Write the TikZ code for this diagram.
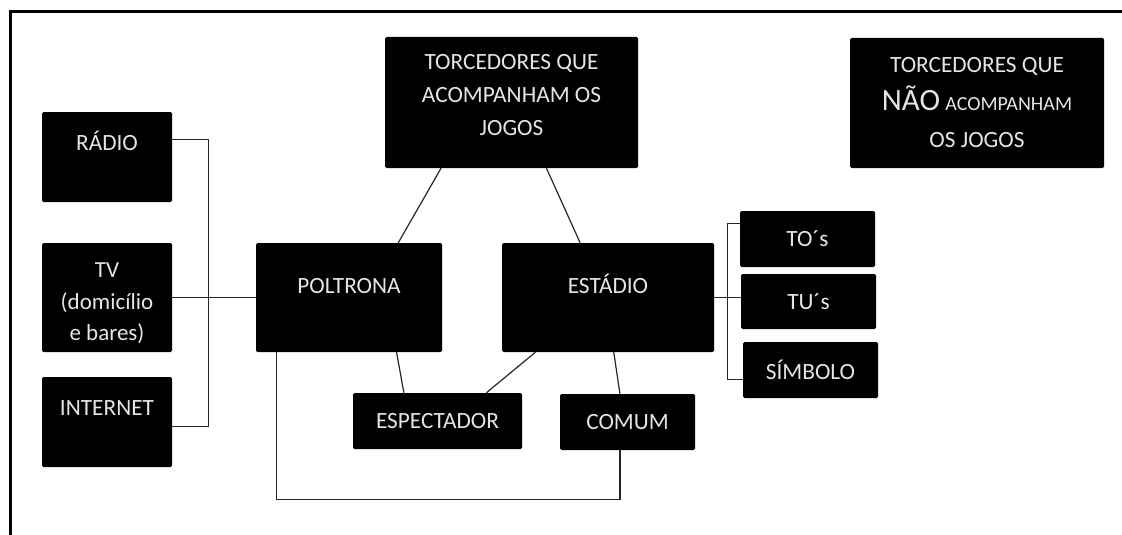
\documentclass[tikz,border=0pt]{standalone}
\usepackage{fontspec}
\setmainfont{Carlito}
\usepackage{tikz}

\begin{document}
\begin{tikzpicture}[x=1pt,y=-1pt,
  box/.style={fill=black, rounded corners=1.5pt, inner sep=0pt, text=white!90!black, align=center, font=\fontsize{23.3}{33}\selectfont},
  link/.style={draw=black!85, line width=1.2pt}]
\useasboundingbox (0,0) rectangle (1122,535);
\draw[line width=3pt] (10,535) -- (10,12) -- (1122,12);
\node[box, minimum width=130pt, text height=38pt, text depth=52pt] (1) at (107,157){RÁDIO};
\node[box, minimum width=130pt, text height=97.5pt, text depth=11.5pt, font=\fontsize{23}{31.5}\selectfont] (2) at (107,297.5){TV\\(domicílio\\e bares)};
\node[box, minimum width=130pt, text height=38pt, text depth=52pt] (3) at (107,422){INTERNET};
\node[box, minimum width=186pt, text height=50pt, text depth=59pt] (4) at (349,297.5){POLTRONA};
\node[box, minimum width=253pt, text height=98.5pt, text depth=32.5pt] (5) at (511.5,102.5){TORCEDORES QUE\\ACOMPANHAM OS\\JOGOS};
\node[box, minimum width=212pt, text height=50pt, text depth=59pt] (6) at (608,297.5){ESTÁDIO};
\node[box, minimum width=254pt, minimum height=130pt, font=\fontsize{23.3}{37.5}\selectfont] (7) at (977,103){TORCEDORES QUE\\{\fontsize{31}{36}\selectfont NÃO} {\fontsize{20}{23}\selectfont ACOMPANHAM}\\OS JOGOS};
\node[box, minimum width=135pt, minimum height=56pt] (8) at (807.5,239){TO´s};
\node[box, minimum width=135pt, minimum height=55pt] (9) at (808.5,301.5){TU´s};
\node[box, minimum width=135pt, minimum height=56pt] (10) at (810.5,370){SÍMBOLO};
\node[box, minimum width=169pt, minimum height=56pt] (11) at (437.5,421){ESPECTADOR};
\node[box, minimum width=135pt, minimum height=56pt] (12) at (627.5,422){COMUM};
\foreach \from/\to in 
{5.-137/4.48, 5.-62/6.117, 4.-49/11.140, 6.-143/11.30, 6.-84/12.105, 2/4}
\draw[link] (\from) -- (\to);
\draw[link] (1.15) -- ++(36,0) |- (3.-4);
\draw[link] (8.167) -- ++(-12,0) |- (10.-172);
\draw[link] (6.east) -- (6.east -| 9.west);
\draw[link] (4.-143) -- ++(0,147) -| (12.-105);
\end{tikzpicture}
\end{document}
